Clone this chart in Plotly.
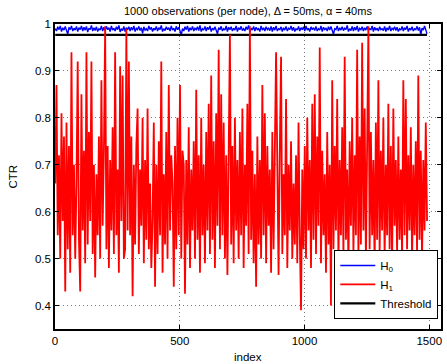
import plotly.graph_objects as go

# ---------------- data ----------------
STEP = 5  # every 5th observation index is kept
H1 = [
    0.66, 0.87, 0.55, 0.72, 0.50, 0.81, 0.58, 0.76, 0.43, 0.79, 0.52, 0.74, 0.47, 0.94, 0.55, 0.70, 0.50, 0.66, 0.92, 0.54,
    0.43, 0.85, 0.56, 0.73, 0.49, 0.94, 0.53, 0.77, 0.58, 0.92, 0.51, 0.70, 0.46, 0.68, 0.55, 0.76, 0.50, 0.88, 0.57, 0.73,
    0.995, 0.52, 0.74, 0.48, 0.71, 0.56, 0.78, 0.51, 0.94, 0.55, 0.69, 0.47, 0.91, 0.58, 0.89, 0.50, 0.52, 0.99, 0.56, 0.92,
    0.55, 0.76, 0.42, 0.70, 0.53, 0.74, 0.82, 0.51, 0.69, 0.57, 0.80, 0.49, 0.71, 0.54, 0.82, 0.52, 0.66, 0.48, 0.58, 0.79,
    0.44, 0.70, 0.51, 0.75, 0.55, 0.92, 0.47, 0.68, 0.53, 0.77, 0.50, 0.87, 0.56, 0.72, 0.66, 0.44, 0.74, 0.52, 0.80, 0.55,
    0.87, 0.50, 0.73, 0.70, 0.425, 0.71, 0.53, 0.78, 0.48, 0.69, 0.56, 0.75, 0.50, 0.86, 0.54, 0.72, 0.47, 0.80, 0.55, 0.70,
    0.49, 0.77, 0.56, 0.83, 0.51, 0.89, 0.54, 0.75, 0.48, 0.81, 0.57, 0.945, 0.52, 0.85, 0.55, 0.79, 0.50, 0.72, 0.465, 0.76,
    0.977, 0.53, 0.74, 0.49, 0.80, 0.56, 0.71, 0.50, 0.77, 0.55, 0.82, 0.48, 0.70, 0.57, 0.83, 0.51, 0.995, 0.54, 0.73, 0.49,
    0.68, 0.44, 0.76, 0.53, 0.71, 0.50, 0.87, 0.55, 0.81, 0.49, 0.74, 0.57, 0.69, 0.47, 0.77, 0.52, 0.72, 0.94, 0.70, 0.465,
    0.73, 0.93, 0.51, 0.68, 0.55, 0.84, 0.48, 0.70, 0.56, 0.75, 0.50, 0.66, 0.53, 0.72, 0.49, 0.79, 0.55, 0.39, 0.69, 0.52,
    0.74, 0.50, 0.80, 0.56, 0.71, 0.48, 0.83, 0.54, 0.85, 0.51, 0.76, 0.57, 0.95, 0.49, 0.73, 0.55, 0.68, 0.47, 0.77, 0.53,
    0.70, 0.40, 0.88, 0.52, 0.74, 0.56, 0.84, 0.49, 0.71, 0.55, 0.78, 0.50, 0.93, 0.54, 0.69, 0.48, 0.75, 0.57, 0.80, 0.51,
    0.72, 0.55, 0.945, 0.50, 0.76, 0.53, 0.96, 0.56, 0.82, 0.49, 0.74, 0.995, 0.52, 0.77, 0.55, 0.71, 0.48, 0.79, 0.54, 0.88,
    0.51, 0.73, 0.56, 0.80, 0.50, 0.70, 0.55, 0.83, 0.52, 0.74, 0.48, 0.82, 0.57, 0.71, 0.51, 0.76, 0.54, 0.69, 0.50, 0.88,
    0.55, 0.84, 0.52, 0.72, 0.56, 0.78, 0.49, 0.70, 0.55, 0.75, 0.51, 0.89, 0.54, 0.73, 0.50, 0.71, 0.56, 0.79, 0.58,
]
H0 = [
    0.990, 0.985, 0.994, 0.988, 0.996, 0.984, 0.992, 0.987, 0.995, 0.986, 0.978, 0.993, 0.988, 0.996, 0.985, 0.991, 0.987, 0.995, 0.984, 0.992,
    0.988, 0.996, 0.985, 0.993, 0.987, 0.995, 0.983, 0.991, 0.988, 0.997, 0.985, 0.992, 0.986, 0.994, 0.984, 0.990, 0.987, 0.996, 0.985, 0.993,
    0.986, 0.995, 0.988, 0.992, 0.984, 0.996, 0.987, 0.991, 0.985, 0.994, 0.988, 0.997, 0.983, 0.990, 0.986, 0.995, 0.984, 0.992, 0.988, 0.994,
    0.985, 0.993, 0.987, 0.996, 0.984, 0.991, 0.988, 0.995, 0.986, 0.992, 0.980, 0.994, 0.987, 0.990, 0.985, 0.996, 0.988, 0.993, 0.984, 0.991,
    0.987, 0.995, 0.985, 0.992, 0.988, 0.997, 0.984, 0.990, 0.986, 0.994, 0.988, 0.992, 0.985, 0.996, 0.987, 0.991, 0.984, 0.995, 0.988, 0.993,
    0.986, 0.977, 0.990, 0.985, 0.994, 0.988, 0.996, 0.984, 0.992, 0.987, 0.995, 0.985, 0.991, 0.988, 0.994, 0.986, 0.997, 0.984, 0.990, 0.987,
    0.995, 0.985, 0.993, 0.988, 0.996, 0.984, 0.991, 0.987, 0.994, 0.986, 0.979, 0.992, 0.988, 0.995, 0.985, 0.990, 0.987, 0.996, 0.984, 0.993,
    0.988, 0.994, 0.985, 0.991, 0.987, 0.996, 0.984, 0.992, 0.988, 0.995, 0.986, 0.990, 0.985, 0.994, 0.988, 0.997, 0.983, 0.991, 0.987, 0.995,
    0.985, 0.993, 0.988, 0.990, 0.984, 0.996, 0.987, 0.992, 0.985, 0.994, 0.988, 0.991, 0.986, 0.995, 0.984, 0.993, 0.987, 0.996, 0.985, 0.990,
    0.988, 0.994, 0.984, 0.992, 0.987, 0.995, 0.985, 0.991, 0.988, 0.996, 0.986, 0.993, 0.984, 0.990, 0.987, 0.995, 0.985, 0.992, 0.988, 0.994,
    0.985, 0.996, 0.987, 0.991, 0.984, 0.994, 0.988, 0.992, 0.986, 0.995, 0.985, 0.990, 0.987, 0.996, 0.984, 0.993, 0.988, 0.991, 0.985, 0.994,
    0.987, 0.995, 0.984, 0.978, 0.990, 0.988, 0.996, 0.985, 0.992, 0.987, 0.994, 0.986, 0.991, 0.988, 0.997, 0.984, 0.990, 0.986, 0.995, 0.985,
    0.993, 0.987, 0.996, 0.984, 0.991, 0.988, 0.994, 0.985, 0.992, 0.987, 0.995, 0.986, 0.990, 0.988, 0.996, 0.984, 0.993, 0.987, 0.991, 0.985,
    0.994, 0.988, 0.990, 0.986, 0.995, 0.984, 0.992, 0.987, 0.996, 0.985, 0.991, 0.988, 0.994, 0.986, 0.993, 0.984, 0.990, 0.987, 0.995, 0.985,
    0.992, 0.988, 0.996, 0.984, 0.991, 0.987, 0.994, 0.985, 0.990, 0.988, 0.995, 0.986, 0.993, 0.977, 0.991, 0.987, 0.996, 0.984, 0.979,
]
THRESHOLD = 0.977
INDEX = [1 + STEP * k for k in range(len(H1))]

X_TICKS = [0, 500, 1000, 1500]
Y_TICKS = [0.4, 0.5, 0.6, 0.7, 0.8, 0.9, 1.0]
Y_TICK_LABELS = ["0.4", "0.5", "0.6", "0.7", "0.8", "0.9", "1"]
TITLE = "1000 observations (per node), \u0394 = 50ms, \u03b1 = 40ms"

FONT = "Liberation Sans, Arial, Helvetica, sans-serif"

fig = go.Figure()
fig.add_trace(go.Scatter(x=INDEX, y=H0, mode="lines", name="H<sub>0</sub>",
                         line=dict(color="#0000ff", width=1.4), legendrank=1))
fig.add_trace(go.Scatter(x=[INDEX[0], INDEX[-1]], y=[THRESHOLD, THRESHOLD], mode="lines",
                         name="Threshold", line=dict(color="#000000", width=2.2), legendrank=3))
fig.add_trace(go.Scatter(x=INDEX, y=H1, mode="lines", name="H<sub>1</sub>",
                         line=dict(color="#ff0000", width=1.8), legendrank=2))

axis_common = dict(
    showline=True, linecolor="black", linewidth=1.5, mirror="ticks",
    ticks="inside", ticklen=4, tickcolor="black", tickwidth=1,
    showgrid=True, gridcolor="#7a7a7a", griddash="1px,3px", gridwidth=1,
    zeroline=False, tickfont=dict(family=FONT, size=11.5, color="black"),
)

fig.update_layout(
    width=447, height=364,
    margin=dict(l=55, r=4, t=24, b=35),
    paper_bgcolor="white", plot_bgcolor="white",
    font=dict(family=FONT, size=11.5, color="black"),
    showlegend=True,
    legend=dict(x=0.993, xanchor="right", y=0.033, yanchor="bottom",
                bgcolor="white", bordercolor="black", borderwidth=1,
                font=dict(family=FONT, size=11.5, color="black"),
                tracegroupgap=0, itemwidth=35),
    annotations=[
        dict(text=TITLE, xref="paper", yref="paper", x=0.5, y=1, yshift=13.5,
             xanchor="center", yanchor="middle", showarrow=False,
             font=dict(family=FONT, size=11, color="black")),
        dict(text="index", xref="paper", yref="paper", x=0.5, y=0, yshift=-28,
             xanchor="center", yanchor="middle", showarrow=False,
             font=dict(family=FONT, size=11.5, color="black")),
        dict(text="CTR", xref="paper", yref="paper", x=0, y=0.5, xshift=-43,
             xanchor="center", yanchor="middle", textangle=-90, showarrow=False,
             font=dict(family=FONT, size=11.5, color="black")),
    ],
)
fig.update_xaxes(range=[0, 1547], tickvals=X_TICKS, **axis_common)
fig.update_yaxes(range=[0.35, 1.0], tickvals=Y_TICKS, ticktext=Y_TICK_LABELS, **axis_common)

fig.write_html("out.html",
               config={"displayModeBar": False},
               post_script="document.body.style.margin='0';document.body.style.padding='0';"
                           "document.body.style.overflow='hidden';")
